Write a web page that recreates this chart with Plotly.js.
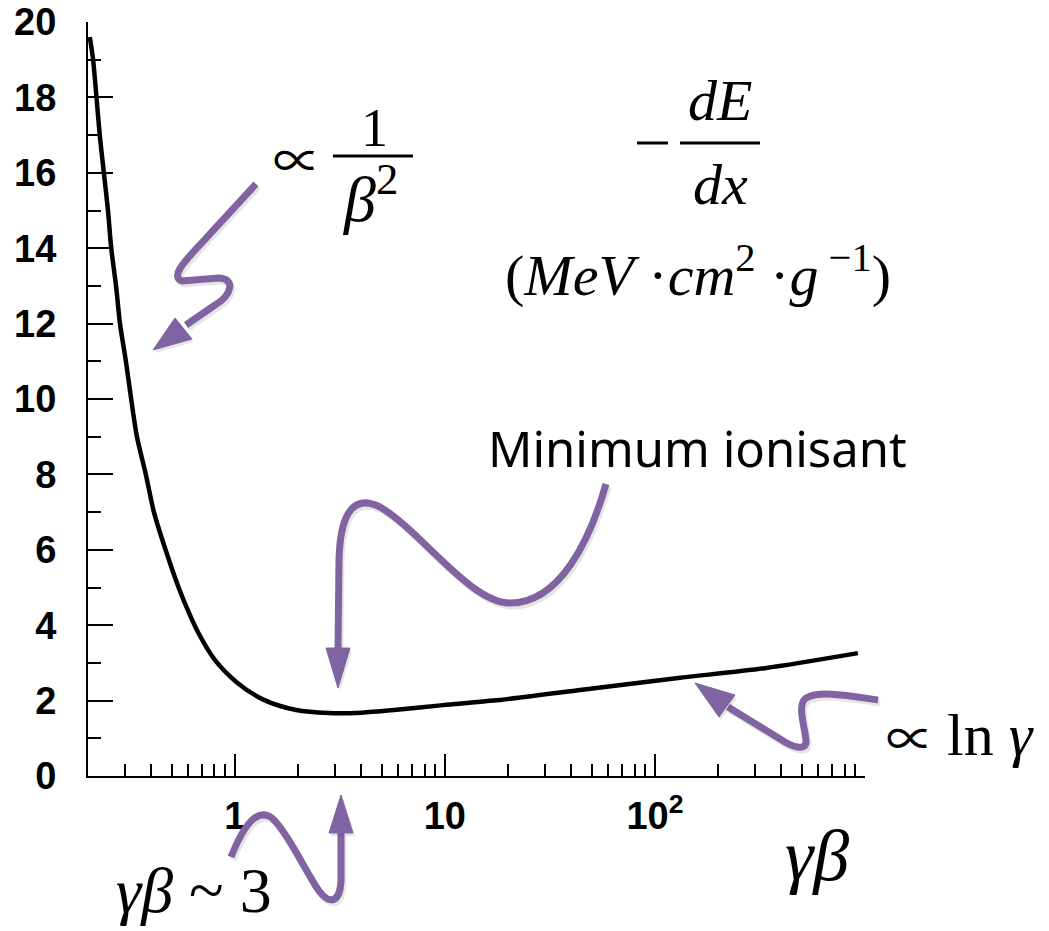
<!DOCTYPE html>
<html>
<head>
<meta charset="utf-8">
<script src="https://cdn.plot.ly/plotly-3.0.1.min.js"></script>
<style>
html,body{margin:0;padding:0;background:#fff;}
#chart{width:1049px;height:931px;}
</style>
</head>
<body>
<div id="chart"></div>
<script>
// ---- data ----
const gammaBeta = [0.204, 0.2115, 0.2195, 0.2275, 0.238, 0.249, 0.258, 0.272, 0.284, 0.303, 0.321, 0.342, 0.377, 0.412, 0.468, 0.540, 0.608, 0.670, 0.803, 1.03, 1.375, 1.96, 2.80, 4.01, 5.73, 9.8, 17.0, 51.5, 129, 333, 925];
const dEdx = [19.6, 19.0, 18.0, 17.0, 16.0, 15.0, 14.0, 13.0, 12.0, 11.0, 10.0, 9.0, 8.0, 7.0, 6.0, 5.0, 4.3, 3.8, 3.08, 2.47, 2.02, 1.75, 1.67, 1.68, 1.75, 1.88, 2.0, 2.33, 2.6, 2.86, 3.26];

const xTickVals = [1, 10, 100];
const xTickText = ["1", "10", "10<sup>2</sup>"];
const xMinorVals = [0.3,0.4,0.5,0.6,0.7,0.8,0.9, 2,3,4,5,6,7,8,9, 20,30,40,50,60,70,80,90, 200,300,400,500,600,700,800,900];
const yTickVals = [0,2,4,6,8,10,12,14,16,18,20];
const yTickText = ["0","2","4","6","8","10","12","14","16","18","20"];
const yMinorVals = [1,3,5,7,9,11,13,15,17,19];

// ---- layout geometry helpers (pixel -> paper) ----
const L = 88, R = 865, T = 22, B = 776;
const PW = R - L, PH = B - T;
const px = x => (x - L) / PW;
const py = y => (B - y) / PH;
function pathStr(cmds, dx, dy) {
  dx = dx || 0; dy = dy || 0;
  return cmds.map(c => {
    const op = c[0]; const out = [op];
    for (let i = 1; i < c.length; i += 2) {
      out.push(px(c[i] + dx).toFixed(5) + ',' + py(c[i+1] + dy).toFixed(5));
    }
    return out.join(' ');
  }).join(' ') + (cmds.closed ? ' Z' : '');
}
const PURPLE = '#8064a2';
const shapes = [];
function addStroke(cmds) {
  shapes.push({type:'path', xref:'paper', yref:'paper', layer:'above',
    path: pathStr(cmds, 2, 3), line:{color:'rgba(0,0,0,0.10)', width:7}});
  shapes.push({type:'path', xref:'paper', yref:'paper', layer:'above',
    path: pathStr(cmds), line:{color:PURPLE, width:7}});
}
function addHead(pts) {
  const cmds = [['M', pts[0][0], pts[0][1]], ['L', pts[1][0], pts[1][1]], ['L', pts[2][0], pts[2][1]]];
  cmds.closed = true;
  shapes.push({type:'path', xref:'paper', yref:'paper', layer:'above',
    path: pathStr(cmds, 2, 3), fillcolor:'rgba(0,0,0,0.10)', line:{width:0}});
  shapes.push({type:'path', xref:'paper', yref:'paper', layer:'above',
    path: pathStr(cmds), fillcolor:PURPLE, line:{color:PURPLE, width:1}});
}
function hline(x0, x1, y, w) {
  shapes.push({type:'line', xref:'paper', yref:'paper', layer:'above',
    x0:px(x0), x1:px(x1), y0:py(y), y1:py(y), line:{color:'black', width:w}});
}

// arrow 1 : 1/beta^2
addStroke([['M',256,184],['L',207,237],['C',190,256,168,276,182,281],['L',218,278],['C',236,278,232,295,215,305],['L',186,325]]);
addHead([[153,350],[175,318],[192,339]]);
// arrow 2 : minimum ionisant
addStroke([['M',606,484],['C',590,540,560,603,510,603],['C',470,603,420,530,380,507],['C',350,492,340,520,339,560],['L',338,650]]);
addHead([[338,688],[326,648],[350,648]]);
// arrow 3 : gamma beta ~ 3
addStroke([['M',231,857],['C',245,822,258,808,272,818],['C',285,830,300,860,315,885],['C',328,906,340,905,341,880],['L',341,833]]);
addHead([[341,795],[329,833],[353,833]]);
// arrow 4 : ln gamma
addStroke([['M',878,700],['C',850,696,820,690,806,698],['C',796,705,806,730,806,742],['C',806,750,795,748,785,742],['L',728,707]]);
addHead([[695,683],[719,717],[735,695]]);

// fraction bars and minus sign
hline(333, 413, 156, 3);
hline(637, 668, 143, 3);
hline(680, 760, 143, 3);

const SERIF = 'Liberation Serif, Times New Roman, serif';
const PROPFONT = 'Noto Sans CJK JP, DejaVu Sans, sans-serif';
function ann(text, x, y, size, family, xanchor) {
  return {text:text, xref:'paper', yref:'paper', x:px(x), y:py(y), showarrow:false,
    xanchor:xanchor || 'center', yanchor:'middle',
    font:{family:family || SERIF, size:size, color:'black'}};
}
const annotations = [
  ann('∝', 297, 157, 48, PROPFONT),
  ann('1', 374, 128, 54),
  ann('<i>β</i><sup>2</sup>', 370, 194, 64),
  ann('<i>dE</i>', 720, 101, 58),
  ann('<i>dx</i>', 720, 184, 58),
  ann('(<i>MeV</i> ·<i>cm</i><sup>2</sup> ·<i>g</i><sup> −1</sup>)', 698, 271, 58),
  ann('Minimum ionisant', 697, 448, 49, 'Comic Sans MS, Noto Sans, sans-serif'),
  ann('∝', 910, 735, 48, PROPFONT),
  ann('ln <i>γ</i>', 945, 735, 60, SERIF, 'left'),
  ann('<i>γβ</i> ~ 3', 194, 890, 64),
  ann('<i>γβ</i>', 817, 856, 72)
];

const trace = {
  x: gammaBeta, y: dEdx, type:'scatter', mode:'lines',
  line:{color:'black', width:4.5, shape:'spline', smoothing:0.8},
  hoverinfo:'skip'
};

const tickFont = {family:'Liberation Sans, Arial, sans-serif', size:38, color:'black', weight:'bold'};
const layout = {
  width:1049, height:931,
  margin:{l:L, r:1049-R, t:T, b:931-B, pad:0},
  paper_bgcolor:'white', plot_bgcolor:'white',
  showlegend:false,
  xaxis:{
    type:'log', range:[Math.log10(0.2), 3], autorange:false,
    showline:true, linecolor:'black', linewidth:2,
    showgrid:false, zeroline:false,
    tickmode:'array', tickvals:xTickVals, ticktext:xTickText,
    ticks:'inside', ticklen:22, tickwidth:2, tickcolor:'black',
    tickfont:tickFont, ticklabelstandoff:5,
    minor:{tickmode:'array', tickvals:xMinorVals, ticks:'inside', ticklen:12, tickwidth:2, tickcolor:'black', showgrid:false}
  },
  yaxis:{
    range:[0, 20], autorange:false,
    showline:true, linecolor:'black', linewidth:2,
    showgrid:false, zeroline:false,
    tickmode:'array', tickvals:yTickVals, ticktext:yTickText,
    ticks:'inside', ticklen:25, tickwidth:2, tickcolor:'black',
    tickfont:tickFont, ticklabelstandoff:22,
    minor:{tickmode:'array', tickvals:yMinorVals, ticks:'inside', ticklen:13, tickwidth:2, tickcolor:'black', showgrid:false}
  },
  shapes:shapes,
  annotations:annotations
};

Plotly.newPlot('chart', [trace], layout, {staticPlot:true, displayModeBar:false});
</script>
</body>
</html>
